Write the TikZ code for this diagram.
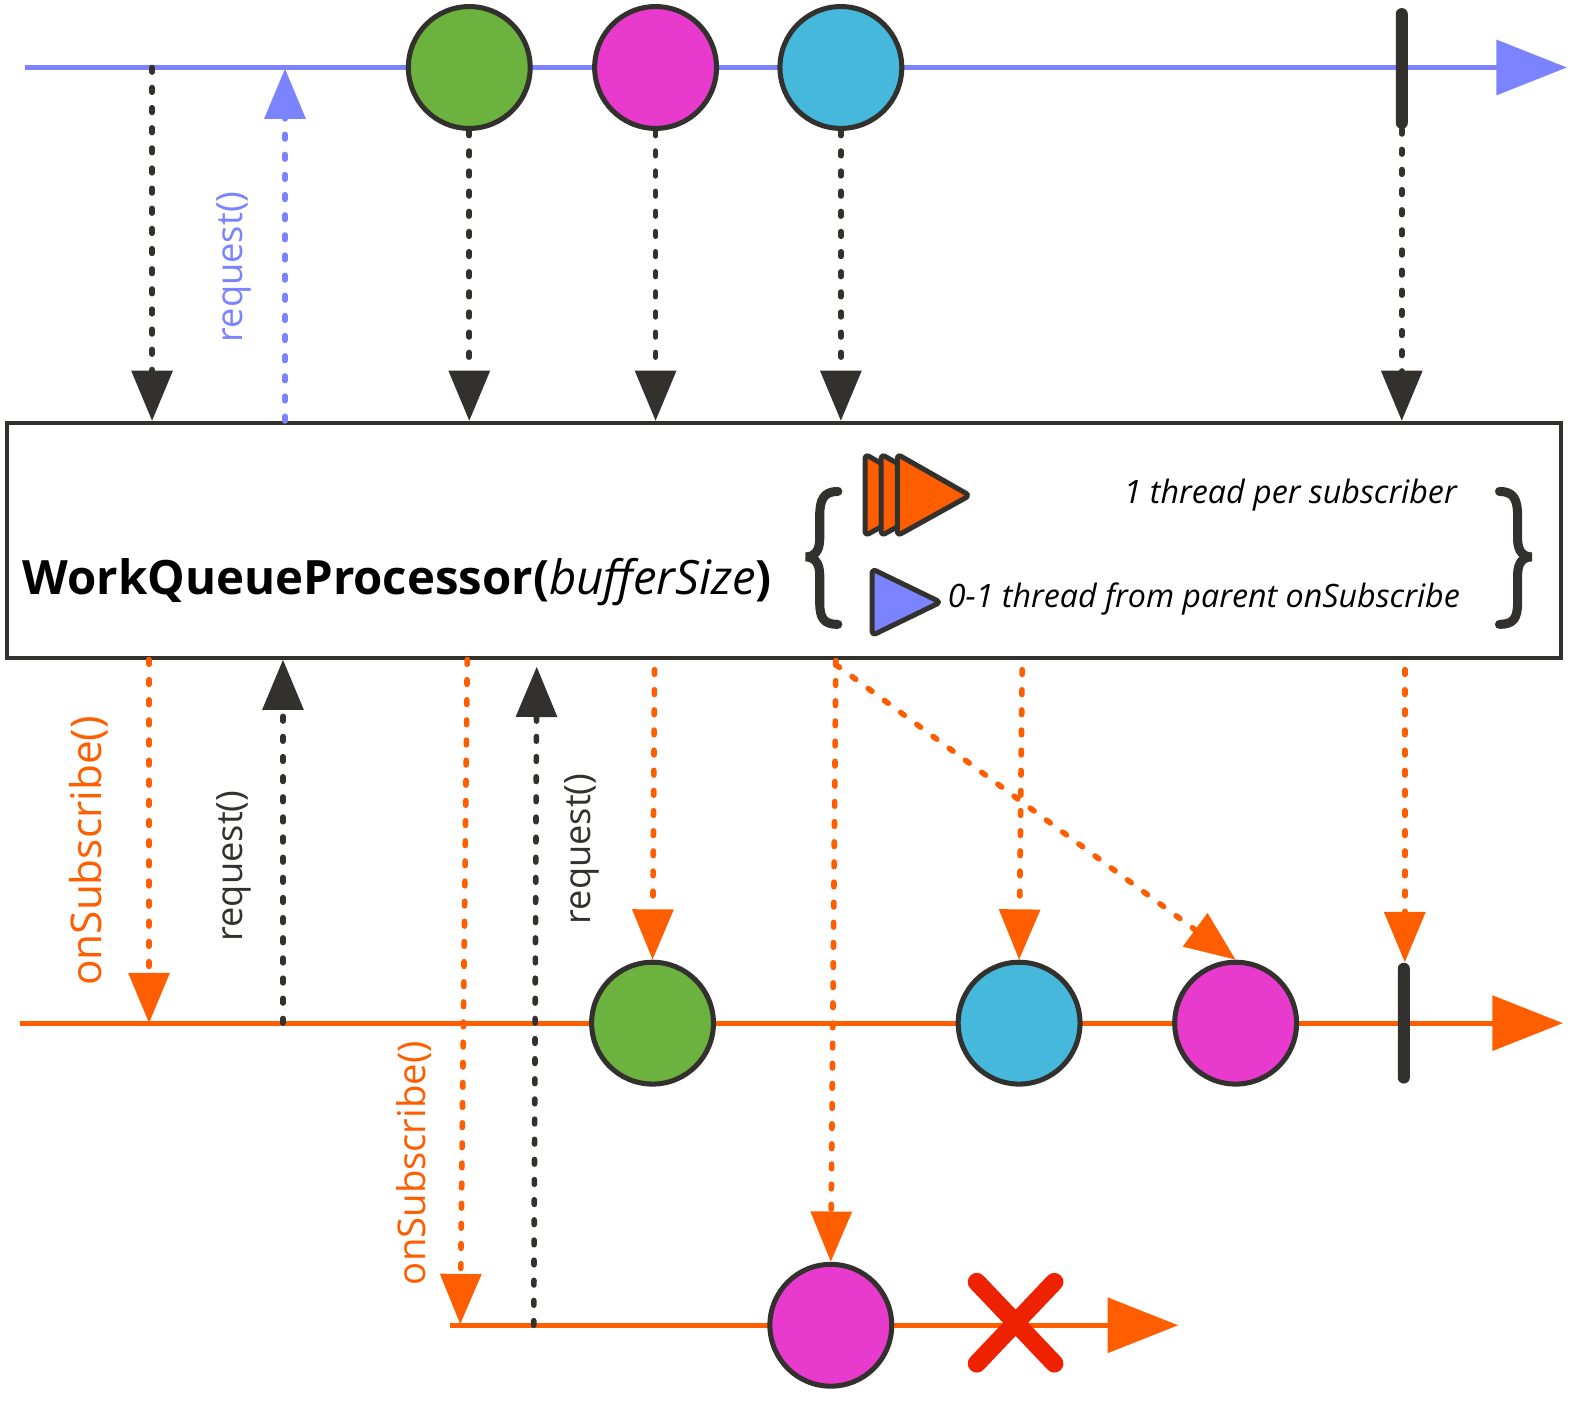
\documentclass[tikz,border=0pt]{standalone}
\usepackage{fontspec}
\setmainfont{Open Sans}
\usetikzlibrary{arrows.meta}
\definecolor{ink}{HTML}{33312D}
\definecolor{orng}{HTML}{FF5E00}
\definecolor{blu}{HTML}{7B83FF}
\definecolor{grn}{HTML}{6CB23E}
\definecolor{mag}{HTML}{E83ACC}
\definecolor{cyn}{HTML}{45B8DC}
\definecolor{xred}{HTML}{EE2200}
\begin{document}
\begin{tikzpicture}[x=0.5pt,y=-0.5pt,
  marble/.style={circle,draw=ink,line width=2.5pt,minimum size=60.5pt,inner sep=0pt},
  dotline/.style={line width=2.8pt,line cap=round,dash pattern=on 2.3pt off 7.7pt},
  tipsmall/.style={-{Triangle[length=25pt,width=20pt]}},
  tipbig/.style={-{Triangle[length=35pt,width=27pt]}},
  endbar/.style={draw=none,fill=ink,rounded corners=3pt,minimum width=6pt,minimum height=60pt,inner sep=0pt},
  lbl/.style={font=\fontsize{18}{18}\selectfont,rotate=90,inner sep=0pt},
  olbl/.style={font=\fontsize{21}{21}\selectfont,rotate=90,inner sep=0pt,orng},
  itl/.style={font=\fontsize{16}{16}\selectfont\itshape,anchor=base east,inner sep=0pt},
  tri/.style={draw=ink,line width=2.5pt,line join=round,rounded corners=2pt}
]
\useasboundingbox (0,0) rectangle (1567,1404);

% ---------- top timeline ----------
\coordinate (tl0) at (25,67);
\coordinate (tl1) at (1556,67);
\draw[blu,line width=2.5pt,tipbig] (tl0) -- (tl1);
\node[marble,fill=grn] (t1) at (466,67) {};
\node[marble,fill=mag] (t2) at (651,67) {};
\node[marble,fill=cyn] (t3) at (835,67) {};
\node[endbar] (tbar) at (1392,68) {};

% ---------- processor box ----------
\node[draw=ink,line width=2pt,minimum width=771.5pt,minimum height=116.5pt,inner sep=0pt] (proc) at (778.5,536.5) {};
\node[anchor=base west,inner sep=0pt,font=\fontsize{23.5}{23.5}\selectfont] (title) at (22,590)
  {\textbf{WorkQueueProcessor(}\textit{bufferSize}\textbf{)}};

% braces
\draw[ink,line width=4.5pt,line cap=round] (832,488) .. controls (818,488) and (814,496) .. (814,512) -- (814,535)
  .. controls (814,548) and (808,553) .. (800,553) .. controls (808,553) and (814,558) .. (814,571) -- (814,598)
  .. controls (814,614) and (818,620) .. (832,620);
\draw[ink,line width=4.5pt,line cap=round] (1489,488) .. controls (1503,488) and (1507,496) .. (1507,512) -- (1507,535)
  .. controls (1507,548) and (1513,553) .. (1521,553) .. controls (1513,553) and (1507,558) .. (1507,571) -- (1507,598)
  .. controls (1507,614) and (1503,620) .. (1489,620);

% thread icons
\foreach \ox in {859,875,891}{
  \draw[tri,fill=orng] (\ox,451) -- (\ox+72,492) -- (\ox,532) -- cycle;
}
\draw[tri,fill=blu] (866,565) -- (934,598) -- (866,631) -- cycle;
\node[itl] (it1) at (1447,500) {1 thread per subscriber};
\node[itl] (it2) at (1450,603) {0-1 thread from parent onSubscribe};

% ---------- top arrows into box ----------
\coordinate (a0) at (151,67);
\draw[ink,dotline,tipsmall] (a0) -- (a0 |- proc.north);
\draw[ink,dotline,tipsmall] (t1.south) -- (t1.south |- proc.north);
\draw[ink,dotline,tipsmall] (t2.south) -- (t2.south |- proc.north);
\draw[ink,dotline,tipsmall] (t3.south) -- (t3.south |- proc.north);
\draw[ink,dotline,tipsmall] (tbar.south) -- (tbar.south |- proc.north);
\coordinate (rq0) at (283,68);
\draw[blu,dotline,tipsmall] (rq0 |- proc.north) -- (rq0);
\node[lbl,blu] (lq0) at (232,265) {request()};

% ---------- middle timeline ----------
\coordinate (ml0) at (20,1016);
\coordinate (ml1) at (1552,1016);
\draw[orng,line width=2.5pt,tipbig] (ml0) -- (ml1);
\node[marble,fill=grn] (m1) at (648,1016) {};
\node[marble,fill=cyn] (m2) at (1012,1016) {};
\node[marble,fill=mag] (m3) at (1227,1016) {};
\node[endbar] (mbar) at (1394,1016) {};

% ---------- bottom timeline ----------
\coordinate (bl0) at (447,1316);
\coordinate (bl1) at (1170,1316);
\draw[orng,line width=2.5pt,tipbig] (bl0) -- (bl1);
\node[marble,fill=mag] (b1) at (825,1316) {};
\draw[xred,line width=9pt,line cap=round] (970,1273) -- (1047,1354) (1047,1273) -- (970,1354);

% ---------- arrows out of box ----------
\coordinate (s1) at (148,1016);
\draw[orng,dotline,tipsmall] (s1 |- proc.south) -- (s1);
\node[olbl] (ls1) at (88,845) {onSubscribe()};
\coordinate (r1) at (281,1016);
\draw[ink,dotline,tipsmall] (r1) -- (r1 |- proc.south);
\node[lbl,ink] (lr1) at (232,860) {request()};

\coordinate (s2a) at (464,655);
\coordinate (s2) at (457,1315);
\draw[orng,dotline,tipsmall] (s2a) -- (s2);
\node[olbl,font=\fontsize{19}{19}\selectfont] (ls2) at (411,1155) {onSubscribe()};
\coordinate (r2) at (530,1316);
\coordinate (r2b) at (533,662);
\draw[ink,dotline,tipsmall] (r2) -- (r2b);
\node[lbl,ink] (lr2) at (578,843) {request()};

\coordinate (o1) at (650,665);
\draw[orng,dotline,tipsmall] (o1) -- (m1.north);
\coordinate (o2) at (830,656);
\draw[orng,dotline,tipsmall] (o2) -- (b1.north);
\coordinate (o3) at (1015,665);
\draw[orng,dotline,tipsmall] (o3) -- (m2.north);
\coordinate (o4) at (830,660);
\draw[orng,dotline,tipsmall] (o4) -- (m3.north);
\coordinate (o5) at (1395,665);
\draw[orng,dotline,tipsmall] (o5) -- (o5 |- mbar.north);
\end{tikzpicture}
\end{document}
